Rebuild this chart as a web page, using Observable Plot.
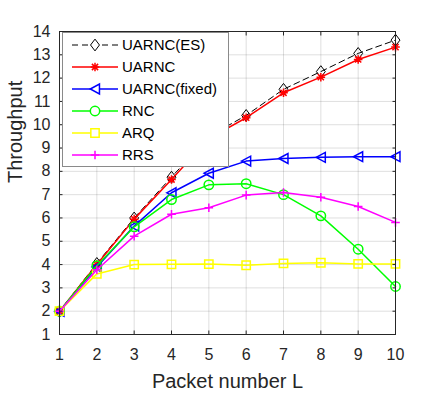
<!DOCTYPE html>
<html>
<head>
<meta charset="utf-8">
<script src="https://cdn.jsdelivr.net/npm/d3@7"></script>
<script src="https://cdn.jsdelivr.net/npm/@observablehq/plot@0.6"></script>
<style>
  html, body { margin: 0; padding: 0; background: #fff; }
  #chart { position: relative; width: 436px; height: 393px; }
</style>
</head>
<body>
<div id="chart"></div>
<script>
// ---- data ----
const packetNumbers = [1, 2, 3, 4, 5, 6, 7, 8, 9, 10];
const xTicks = [1, 2, 3, 4, 5, 6, 7, 8, 9, 10];
const yTicks = [1, 2, 3, 4, 5, 6, 7, 8, 9, 10, 11, 12, 13, 14];
const seriesNames = ["UARNC(ES)", "UARNC", "UARNC(fixed)", "RNC", "ARQ", "RRS"];
const uarncES    = [2, 4.05, 6.0, 7.75, 9.5, 10.4, 11.52, 12.28, 13.06, 13.63];
const uarnc      = [2, 4.0, 5.95, 7.65, 9.4, 10.3, 11.37, 12.04, 12.8, 13.33];
const uarncFixed = [2, 3.9, 5.65, 7.08, 7.92, 8.44, 8.55, 8.6, 8.63, 8.63];
const rnc        = [2, 3.95, 5.62, 6.79, 7.42, 7.47, 7.0, 6.09, 4.66, 3.06];
const arq        = [2, 3.6, 4.0, 4.01, 4.02, 3.97, 4.05, 4.08, 4.03, 4.03];
const rrs        = [2, 3.78, 5.22, 6.16, 6.44, 6.98, 7.09, 6.89, 6.49, 5.81];
const seriesValues = [uarncES, uarnc, uarncFixed, rnc, arq, rrs];

// ---- custom marker shapes (MATLAB-like) ----
const rOf = size => Math.sqrt(size / Math.PI);
const symDiamond = { draw(c, size) { const r = rOf(size);
  c.moveTo(0, -1.25 * r); c.lineTo(0.95 * r, 0); c.lineTo(0, 1.25 * r); c.lineTo(-0.95 * r, 0); c.closePath(); } };
const symAsterisk = { draw(c, size) { const r = rOf(size), d = 0.72 * r;
  c.moveTo(-r, 0); c.lineTo(r, 0); c.moveTo(0, -r); c.lineTo(0, r);
  c.moveTo(-d, -d); c.lineTo(d, d); c.moveTo(-d, d); c.lineTo(d, -d); } };
const symTriLeft = { draw(c, size) { const r = rOf(size);
  c.moveTo(-1.0 * r, 0); c.lineTo(0.95 * r, -1.05 * r); c.lineTo(0.95 * r, 1.05 * r); c.closePath(); } };
const symCircle = d3.symbolCircle;
const symSquare = d3.symbolSquare;
const symPlus = { draw(c, size) { const r = rOf(size);
  c.moveTo(-r, 0); c.lineTo(r, 0); c.moveTo(0, -r); c.lineTo(0, r); } };

const styles = [
  { color: "#000000", width: 1, dash: "6,4", symbol: symDiamond, r: 4.7 },
  { color: "#ff0000", width: 1.5, dash: null, symbol: symAsterisk, r: 4.3 },
  { color: "#0000ff", width: 1.5, dash: null, symbol: symTriLeft, r: 4.7 },
  { color: "#00ff00", width: 1.5, dash: null, symbol: symCircle, r: 4.7 },
  { color: "#ffff00", width: 1.5, dash: null, symbol: symSquare, r: 4.7 },
  { color: "#ff00ff", width: 1.5, dash: null, symbol: symPlus, r: 4.3 }
];

const rows = seriesNames.map((name, i) =>
  packetNumbers.map((L, j) => ({ L, v: seriesValues[i][j], s: name })));

const axisColor = "#262626";
const font = "'Liberation Sans', Arial, Helvetica, sans-serif";

const seriesMarks = rows.flatMap((data, i) => {
  const st = styles[i];
  return [
    Plot.line(data, { x: "L", y: "v", stroke: st.color, strokeWidth: st.width, strokeDasharray: st.dash }),
    Plot.dot(data, { x: "L", y: "v", symbol: st.symbol, r: st.r, stroke: st.color, strokeWidth: st.width, fill: "none" })
  ];
});

const chart = Plot.plot({
  width: 436,
  height: 393,
  marginLeft: 59,
  marginRight: 41,
  marginTop: 31,
  marginBottom: 59,
  style: { fontFamily: font, background: "white", overflow: "visible" },
  x: { domain: [1, 10] },
  y: { domain: [1, 14] },
  marks: [
    Plot.gridX(xTicks, { stroke: axisColor, strokeOpacity: 0.15, strokeWidth: 1 }),
    Plot.gridY(yTicks, { stroke: axisColor, strokeOpacity: 0.15, strokeWidth: 1 }),
    ...seriesMarks,
    // inward ticks on all four sides
    Plot.axisX(xTicks, { anchor: "bottom", tickSize: 3.5, dy: -3.5, text: null, stroke: axisColor, label: null }),
    Plot.axisX(xTicks, { anchor: "top", tickSize: 3.5, dy: 3.5, text: null, stroke: axisColor, label: null }),
    Plot.axisY(yTicks, { anchor: "left", tickSize: 3.5, dx: 3.5, text: null, stroke: axisColor, label: null }),
    Plot.axisY(yTicks, { anchor: "right", tickSize: 3.5, dx: -3.5, text: null, stroke: axisColor, label: null }),
    // tick labels
    Plot.axisX(xTicks, { anchor: "bottom", tickSize: 0, tickPadding: 14, fontSize: 16, fill: axisColor, label: null }),
    Plot.axisY(yTicks, { anchor: "left", tickSize: 0, tickPadding: 9, fontSize: 16, fill: axisColor, label: null }),
    Plot.frame({ stroke: axisColor, strokeWidth: 1 }),
    // axis titles
    Plot.text(["Packet number L"], { frameAnchor: "bottom", dy: 53, lineAnchor: "bottom", text: d => d, fontSize: 20, fill: axisColor }),
    Plot.text(["Throughput"], { frameAnchor: "left", dx: -38, rotate: -90, lineAnchor: "bottom", text: d => d, fontSize: 20, fill: axisColor })
  ]
});

document.getElementById("chart").appendChild(chart);

// ---- legend (inside the axes, top-left) ----
const svg = d3.select(chart);
const lg = svg.append("g").attr("font-family", font).attr("font-size", 15).attr("text-anchor", "start");
const box = { x: 62.5, y: 32.5, w: 166, h: 134 };
lg.append("rect").attr("x", box.x).attr("y", box.y).attr("width", box.w).attr("height", box.h)
  .attr("fill", "white").attr("stroke", "#8a8a8a").attr("stroke-width", 1);
seriesNames.forEach((name, i) => {
  const st = styles[i];
  const cy = 45 + i * 22;
  lg.append("line").attr("x1", 72).attr("x2", 118).attr("y1", cy).attr("y2", cy)
    .attr("stroke", st.color).attr("stroke-width", st.width)
    .attr("stroke-dasharray", st.dash);
  lg.append("path").attr("transform", `translate(95,${cy})`)
    .attr("d", d3.symbol(st.symbol, Math.PI * st.r * st.r)())
    .attr("fill", "white").attr("stroke", st.color).attr("stroke-width", st.width);
  lg.append("text").attr("x", 122).attr("y", cy).attr("dy", "0.36em")
    .attr("text-anchor", "start").attr("fill", "#000").text(name);
});
</script>
</body>
</html>
